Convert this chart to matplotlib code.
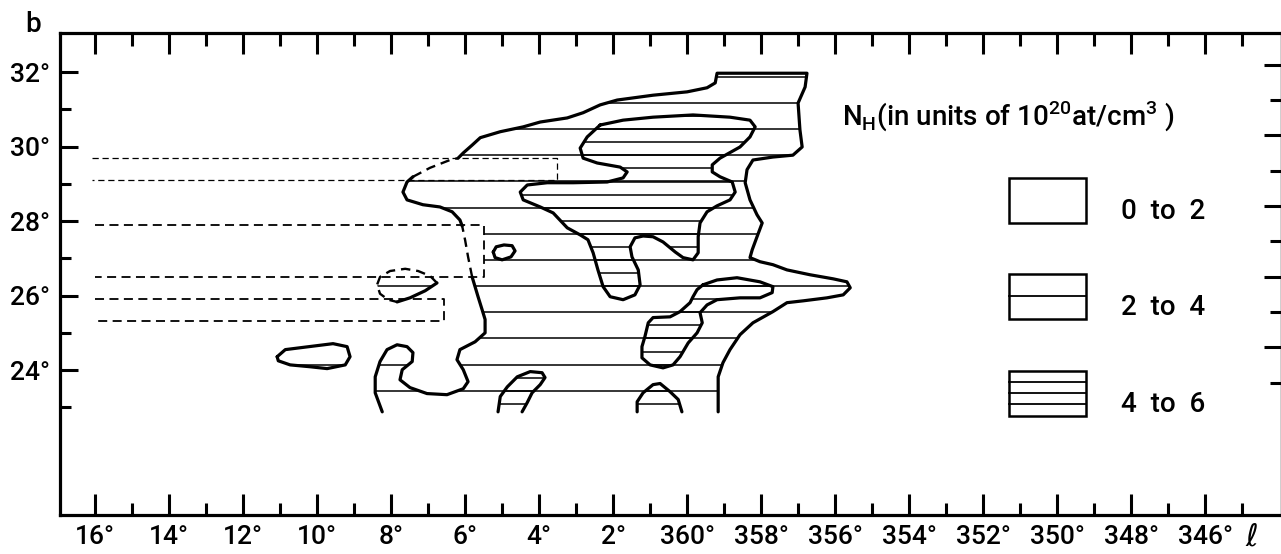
import numpy as np
import matplotlib
matplotlib.use("Agg")
import matplotlib.pyplot as plt
from matplotlib.patches import Polygon, Rectangle
from matplotlib.ticker import FixedLocator

plt.rcParams['font.family'] = ['Roboto', 'DejaVu Sans']
plt.rcParams['font.weight'] = 'medium'

# galactic longitude written as l (360 -> 0, 358 -> -2 ...), latitude b, in degrees
# outer 2-4 contour, split where the drawn line turns dashed
outer_seg1 = [(8.24, 22.88), (8.43, 23.39), (8.43, 23.82), (8.30, 24.23), (8.11, 24.55),
              (7.84, 24.68), (7.57, 24.63), (7.41, 24.47), (7.43, 24.23), (7.70, 24.01),
              (7.76, 23.74), (7.49, 23.53), (7.03, 23.37), (6.49, 23.34), (6.05, 23.50),
              (5.92, 23.69), (6.05, 24.01), (6.22, 24.28), (6.14, 24.55), (5.73, 24.76),
              (5.46, 25.00), (5.46, 25.36), (5.54, 25.62), (5.65, 25.97), (5.81, 26.50)]
outer_dash1 = [(5.81, 26.50), (5.92, 27.04), (6.00, 27.49), (6.08, 27.87)]
outer_seg2 = [(6.08, 27.87), (6.14, 28.03), (6.35, 28.25), (6.68, 28.38), (7.14, 28.44),
              (7.57, 28.57), (7.68, 28.78), (7.57, 29.05), (7.41, 29.19)]
outer_dash2 = [(7.41, 29.19), (6.95, 29.43), (6.41, 29.64), (6.19, 29.69)]
outer_seg3 = [(6.19, 29.69), (6.05, 29.83), (5.81, 30.04), (5.59, 30.24), (5.05, 30.40),
              (4.43, 30.53), (3.97, 30.66), (3.24, 30.77), (2.81, 30.91), (2.35, 31.12),
              (1.89, 31.25), (0.92, 31.38), (0.00, 31.47), (-0.54, 31.58), (-0.76, 31.71),
              (-0.81, 31.97), (-3.24, 31.97), (-3.19, 31.60), (-3.00, 31.17), (-3.05, 30.45),
              (-3.11, 29.99), (-2.86, 29.77), (-2.32, 29.72), (-1.78, 29.64), (-1.62, 29.38),
              (-1.57, 29.03), (-1.70, 28.57), (-1.89, 28.17), (-2.03, 27.95), (-1.89, 27.58),
              (-1.76, 27.23), (-1.70, 27.02), (-1.97, 26.91), (-2.32, 26.83), (-2.70, 26.69),
              (-3.32, 26.56), (-3.95, 26.45), (-4.32, 26.37), (-4.41, 26.21), (-4.22, 26.02),
              (-3.78, 25.94), (-3.14, 25.86), (-2.70, 25.81), (-2.32, 25.57), (-1.78, 25.27),
              (-1.43, 24.95), (-1.16, 24.55), (-0.97, 24.20), (-0.84, 23.82), (-0.84, 23.53),
              (-0.84, 22.88)]

# 4-6 blobs
blob_big = [(2.35, 30.58), (1.73, 30.71), (0.92, 30.79), (-0.16, 30.85), (-1.16, 30.79),
            (-1.70, 30.71), (-1.84, 30.53), (-1.70, 30.26), (-1.43, 29.99), (-0.89, 29.69),
            (-0.68, 29.51), (-0.68, 29.32), (-0.89, 29.19), (-1.22, 29.05), (-1.30, 28.78),
            (-1.16, 28.57), (-0.81, 28.41), (-0.54, 28.25), (-0.35, 27.95), (-0.30, 27.58),
            (-0.30, 27.15), (-0.16, 26.96), (0.11, 27.02), (0.32, 27.17), (0.65, 27.44),
            (0.92, 27.58), (1.19, 27.60), (1.41, 27.55), (1.54, 27.31), (1.49, 27.04),
            (1.32, 26.69), (1.27, 26.29), (1.41, 26.02), (1.73, 25.89), (2.08, 25.97),
            (2.27, 26.24), (2.41, 26.69), (2.54, 27.15), (2.68, 27.50), (2.89, 27.63),
            (3.24, 27.82), (3.62, 28.22), (3.97, 28.38), (4.43, 28.57), (4.51, 28.78),
            (4.32, 28.97), (3.78, 29.03), (3.08, 29.03), (2.16, 29.05), (1.73, 29.16),
            (1.62, 29.32), (1.81, 29.45), (2.43, 29.56), (2.81, 29.69), (2.89, 29.96),
            (2.70, 30.26)]
blob_right = [(-0.43, 26.29), (-0.81, 26.42), (-1.35, 26.48), (-1.97, 26.37), (-2.32, 26.24),
              (-2.30, 26.08), (-1.97, 25.94), (-1.43, 25.94), (-0.81, 25.89), (-0.54, 25.75),
              (-0.35, 25.54), (-0.41, 25.27), (-0.27, 25.00), (-0.03, 24.73), (0.19, 24.36),
              (0.38, 24.14), (0.65, 24.06), (1.00, 24.14), (1.22, 24.33), (1.22, 24.63),
              (1.14, 24.90), (1.05, 25.27), (0.92, 25.41), (0.46, 25.43), (0.19, 25.57),
              (-0.08, 25.81), (-0.16, 25.97), (-0.27, 26.16)]
blob_low1 = [(5.11, 22.88), (5.05, 23.29), (4.86, 23.55), (4.59, 23.82), (4.24, 23.96),
             (3.92, 23.93), (3.84, 23.80), (3.97, 23.61), (4.19, 23.39), (4.32, 23.13),
             (4.46, 22.88)]
blob_low2 = [(1.35, 22.88), (1.35, 23.15), (1.19, 23.39), (0.92, 23.61), (0.73, 23.64),
             (0.46, 23.42), (0.24, 23.21), (0.14, 22.88)]

# small contours
ring_small = [(5.24, 27.17), (5.16, 27.31), (4.95, 27.36), (4.73, 27.34), (4.65, 27.20),
              (4.76, 27.04), (5.00, 26.96), (5.19, 27.02)]
egg_dash = [(6.76, 26.34), (6.95, 26.53), (7.27, 26.66), (7.62, 26.72), (8.03, 26.66),
            (8.30, 26.50), (8.38, 26.29), (8.30, 26.05), (8.08, 25.89), (7.84, 25.83)]
egg_solid = [(7.84, 25.83), (7.49, 25.94), (7.08, 26.13), (6.76, 26.34)]
blob_left = [(11.08, 24.36), (10.86, 24.55), (10.46, 24.60), (9.57, 24.71), (9.19, 24.63),
             (9.11, 24.36), (9.24, 24.14), (9.73, 24.04), (10.19, 24.09), (10.73, 24.14),
             (11.05, 24.25)]

# dashed strips on the left: (left l, right l, upper b, lower b)
strip_1 = (16.08, 3.51, 29.69, 29.10)
strip_2 = (16.00, 5.49, 27.90, 26.50)
strip_3 = (16.00, 6.57, 25.91, 25.32)

x_ticks = list(range(16, -15, -2))
x_labels = [f"{v % 360 if v != 0 else 360}\u00b0" for v in x_ticks]
y_ticks = [24, 26, 28, 30, 32]
y_labels = [f"{v}\u00b0" for v in y_ticks]
legend_labels = ["0  to  2", "2  to  4", "4  to  6"]

L_LEFT, L_RIGHT = 16.95, -16.08
B_LOW, B_TOP = 20.11, 33.05

fig = plt.figure(figsize=(12.81, 5.54), dpi=100)
ax = fig.add_axes([60 / 1281, 1 - 515 / 554, (1282 - 60) / 1281, (515 - 33) / 554])
ax.set_xlim(L_LEFT, L_RIGHT)
ax.set_ylim(B_LOW, B_TOP)

sparse = 31.17 - 0.702 * np.arange(-1, 13)
dense = 31.87 - 0.351 * np.arange(0, 28)


def hatch(pts, levels, lw=1.1):
    clip = Polygon(pts, closed=True, fill=False, edgecolor='none')
    ax.add_patch(clip)
    lc = ax.hlines(levels, L_RIGHT, L_LEFT, colors='black', linewidth=lw)
    lc.set_clip_path(clip)


def outline(pts, closed=False, dashed=False, lw=2.3):
    xs = [p[0] for p in pts]
    ys = [p[1] for p in pts]
    if closed:
        xs.append(xs[0])
        ys.append(ys[0])
    ax.plot(xs, ys, color='black', lw=lw if not dashed else 1.7,
            ls=(0, (4, 2.5)) if dashed else '-',
            solid_joinstyle='round', solid_capstyle='round')


# hatching; the outer one is cut at the edge of strip 2
outer_clip = (outer_seg1 + [(strip_2[1], strip_2[3]), (strip_2[1], strip_2[2])]
              + outer_seg2 + outer_dash2[1:] + outer_seg3[1:])
hatch(outer_clip, sparse)
hatch(blob_left, sparse)
hatch(egg_dash + egg_solid[1:], sparse)
for blob in (blob_big, blob_right, blob_low1, blob_low2):
    hatch(blob, dense)

# contour lines
outline(outer_seg1)
outline(outer_dash1, dashed=True)
outline(outer_seg2)
outline(outer_dash2, dashed=True)
outline(outer_seg3)
for blob in (blob_big, blob_right, blob_left, ring_small):
    outline(blob, closed=True)
outline(blob_low1)
outline(blob_low2)
outline(egg_dash, dashed=True)
outline(egg_solid)

for i, (l0, l1, b0, b1) in enumerate((strip_1, strip_2, strip_3)):
    ax.plot([l0, l1, l1, l0], [b0, b0, b1, b1], color='black',
            lw=0.9 if i == 0 else 1.3, ls=(0, (5, 3)))

# legend
ax.text(-4.19, 30.58, r'N$_\mathregular{H}$(in units of 10$^\mathregular{20}$at/cm$^\mathregular{3}$ )',
        fontsize=20, va='baseline', ha='left')
box_l0, box_l1 = -8.70, -10.78
box_b = [(27.95, 29.16), (25.38, 26.58), (22.78, 23.98)]
box_lines = [[], [26.0], [23.10, 23.39, 23.69]]
label_b = [28.25, 25.67, 23.07]
for (b0, b1), inner, lab, yb in zip(box_b, box_lines, legend_labels, label_b):
    ax.add_patch(Rectangle((box_l1, b0), box_l0 - box_l1, b1 - b0, fill=False,
                           edgecolor='black', lw=1.8))
    for yy in inner:
        ax.plot([box_l0, box_l1], [yy, yy], color='black', lw=1.3)
    ax.text(-11.73, yb, lab, fontsize=20, va='center', ha='left')

# axes
for sp in ax.spines.values():
    sp.set_linewidth(2.3)
ax.xaxis.set_major_locator(FixedLocator(x_ticks))
ax.xaxis.set_minor_locator(FixedLocator(list(range(15, -16, -2))))
ax.set_xticklabels(x_labels)
ax.yaxis.set_major_locator(FixedLocator(y_ticks))
ax.yaxis.set_minor_locator(FixedLocator([23, 25, 27, 29, 31]))
ax.set_yticklabels(y_labels)
ax.tick_params(which='both', direction='in', width=2.2, labelsize=19, top=True,
               right=False, pad=7)
ax.tick_params(axis='x', which='major', length=15)
ax.tick_params(axis='x', which='minor', length=9)
ax.tick_params(axis='y', which='major', length=13)
ax.tick_params(axis='y', which='minor', length=8)

# right ticks in the scan sit a little tighter
ax2 = ax.twinx()
ax2.set_ylim(19.25, 32.90)
ax2.yaxis.set_major_locator(FixedLocator([24, 26, 28, 30, 32]))
ax2.yaxis.set_minor_locator(FixedLocator([23, 25, 27, 29, 31]))
ax2.tick_params(which='both', direction='in', width=2.2, labelright=False)
ax2.tick_params(which='major', length=13)
ax2.tick_params(which='minor', length=8.5)
ax2.spines['right'].set_linewidth(2.3)

fig.text(33 / 1281, 1 - 25 / 554, 'b', fontsize=20, ha='center', va='center')
fig.text(1252 / 1281, 1 - 537 / 554, r'$\ell$', fontsize=22, ha='center', va='center')

fig.savefig('out.png', dpi=100)
